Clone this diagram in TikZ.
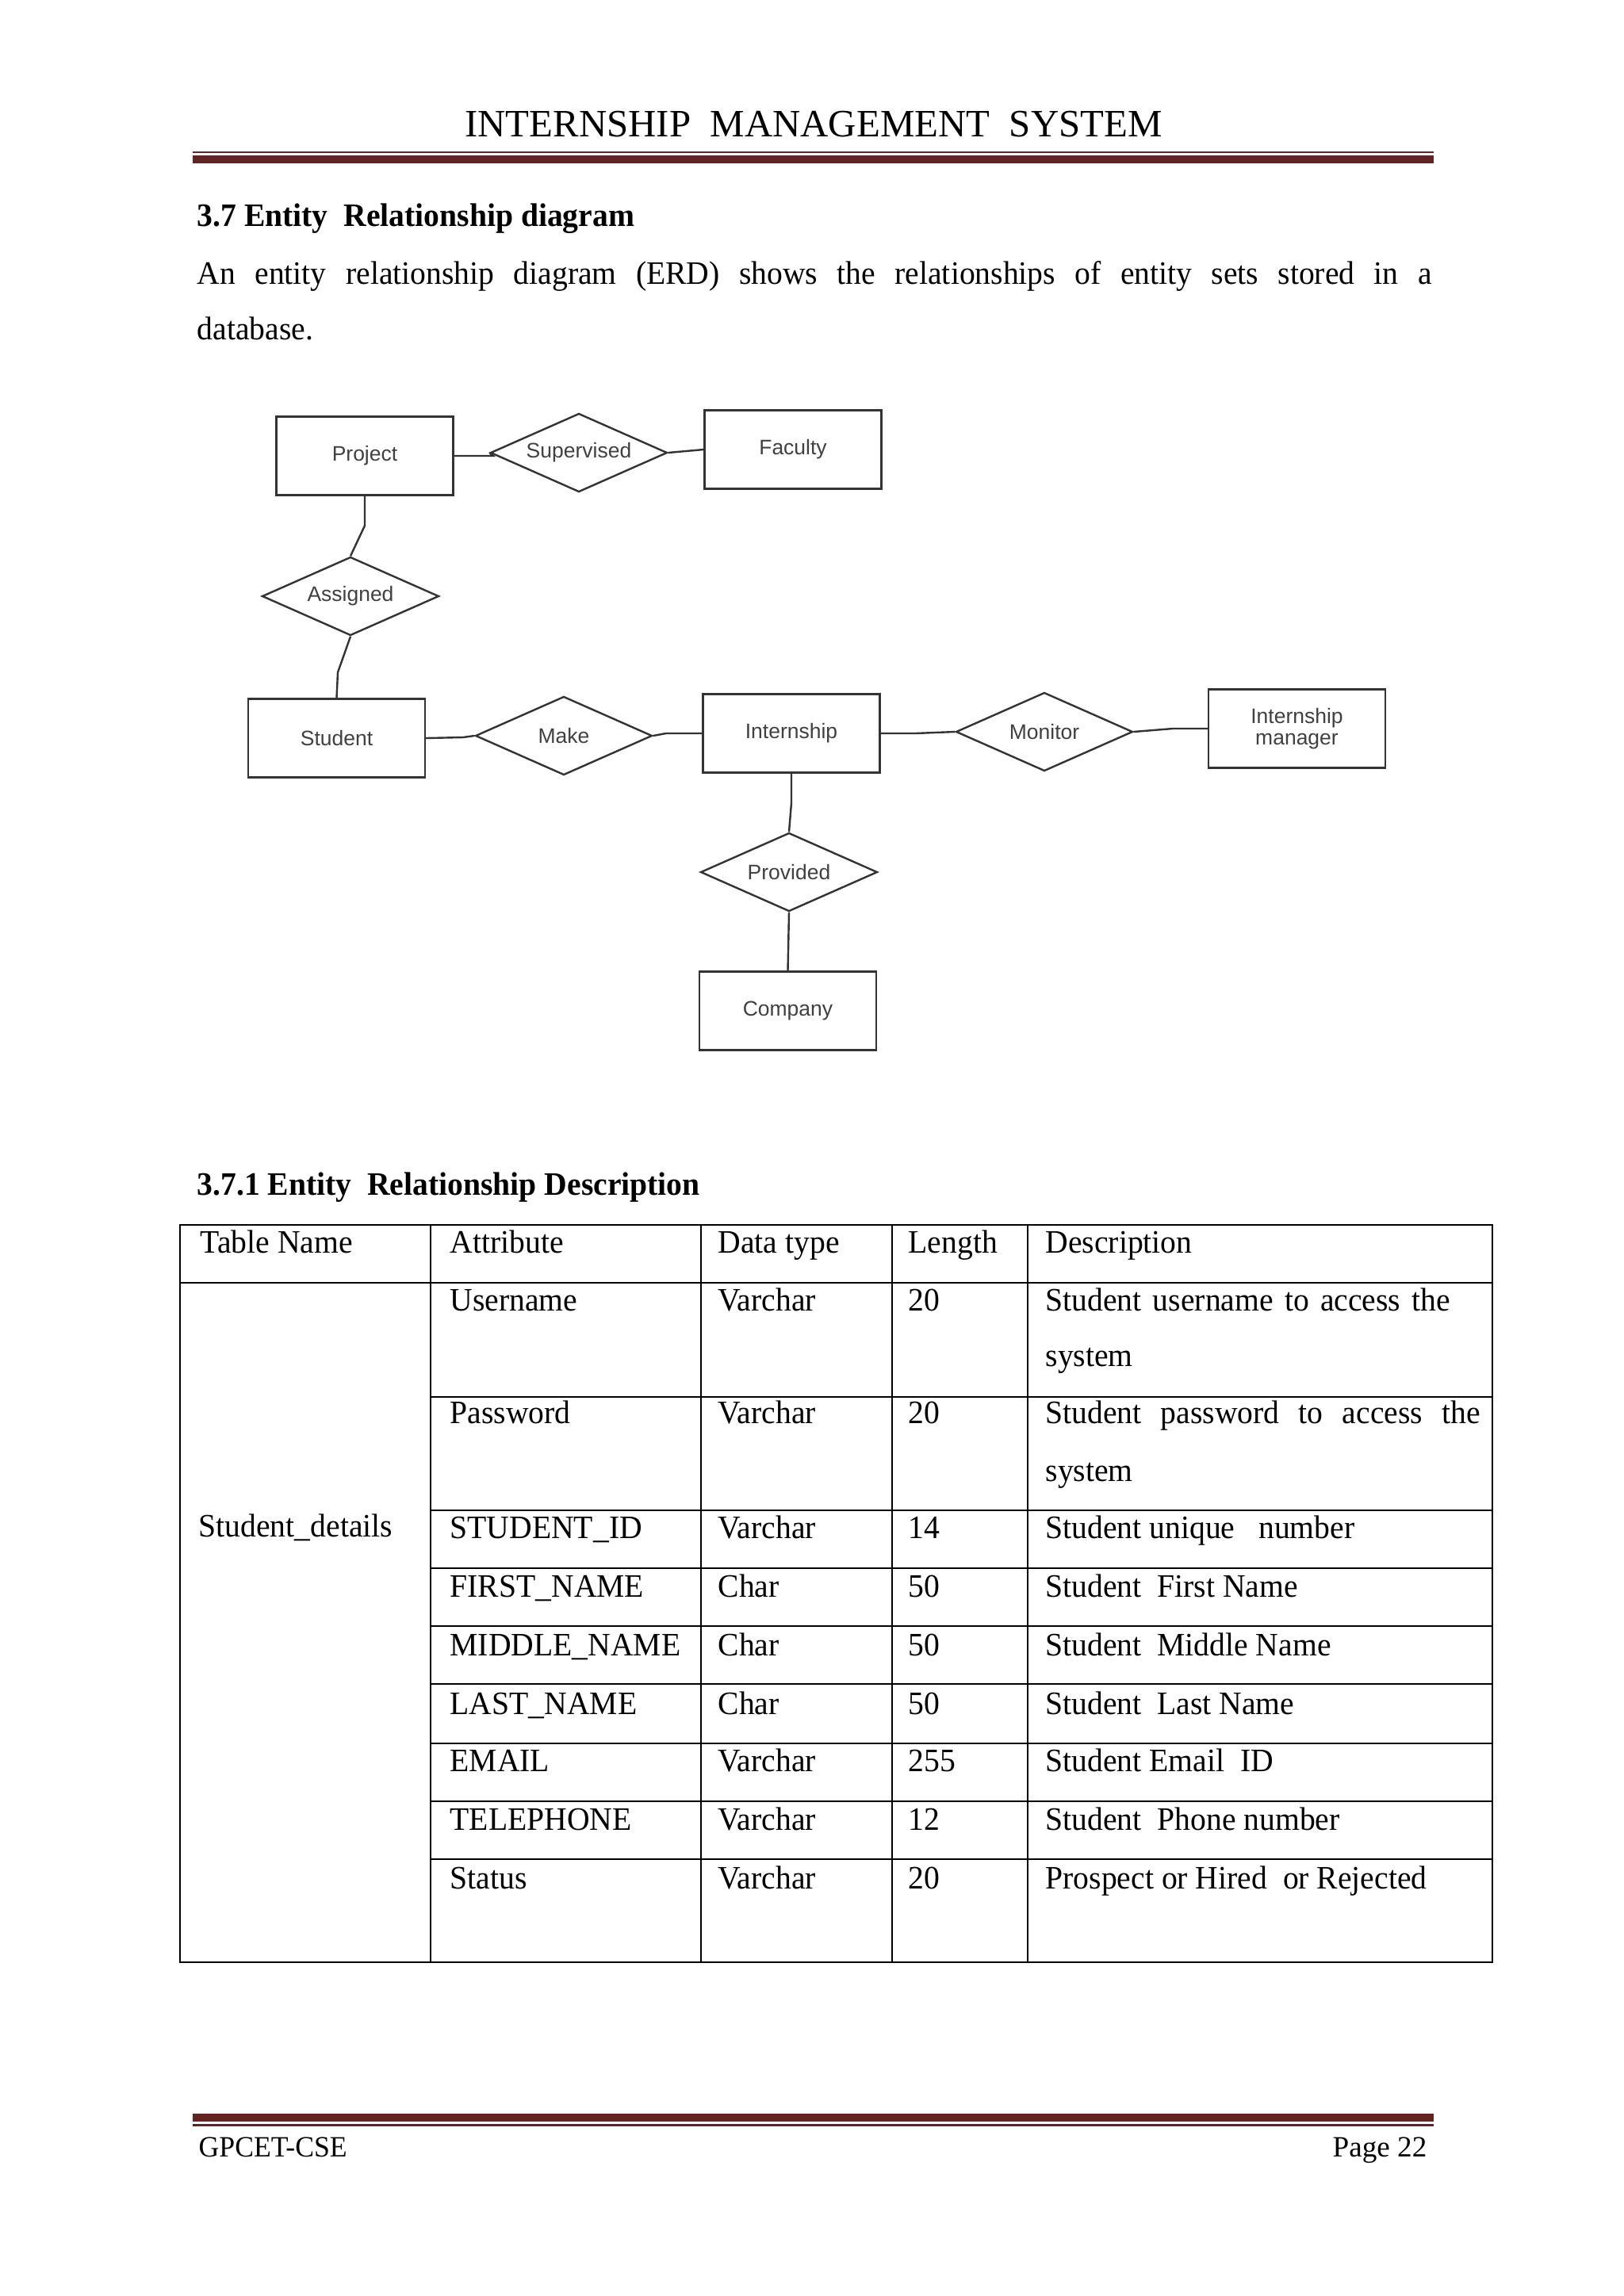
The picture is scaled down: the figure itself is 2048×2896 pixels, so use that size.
\documentclass[tikz,border=0pt]{standalone}
\usepackage{fontspec}
\setmainfont{Liberation Serif}[FakeStretch=0.96]
\newfontfamily\titlefont{Liberation Serif}
\newfontfamily\erdfont{Liberation Sans}
\usetikzlibrary{shapes.geometric}
\definecolor{rulered}{HTML}{622423}
\definecolor{erdline}{HTML}{333333}
\definecolor{erdtext}{HTML}{404040}
\begin{document}
\begin{tikzpicture}[x=0.2907pt, y=-0.2907pt,
  entity/.style={draw=erdline, line width=0.7pt, minimum width=64.8pt, minimum height=28.8pt,
    inner sep=0pt, align=center, font=\erdfont\fontsize{7.7}{7.8}\selectfont, text=erdtext},
  relation/.style={diamond, aspect=2.25, draw=erdline, line width=0.7pt, minimum width=64.8pt,
    minimum height=28.8pt, inner sep=0pt, font=\erdfont\fontsize{7.7}{8}\selectfont, text=erdtext},
  conn/.style={draw=erdline, line width=0.7pt},
  txt/.style={anchor=base west, inner sep=0pt, font=\fontsize{12}{14}\selectfont},
  head/.style={anchor=base west, inner sep=0pt, font=\bfseries\fontsize{12}{14}\selectfont},
  grid/.style={line width=0.8pt, black},
  rulebar/.style={fill=rulered, draw=none}
]
\useasboundingbox (0,0) rectangle (2048,2896);
\fill[white] (0,0) rectangle (2048,2896);

% ---------- header ----------
\node[anchor=base, inner sep=0pt, font=\titlefont\fontsize{14.2}{16}\selectfont] (title) at (1026,172)
  {INTERNSHIP\ \ MANAGEMENT\ \ SYSTEM};
\path[rulebar] (243,191) rectangle (1808,193);
\path[rulebar] (243,196) rectangle (1808,206);

% ---------- intro ----------
\node[head] (h37) at (248,285) {3.7 Entity\ \ Relationship diagram};
\node[txt] (intro1) at (248,358)
  {\makebox[452.6pt][s]{An entity relationship diagram (ERD) shows the relationships of entity sets stored in a}};
\node[txt] (intro2) at (248,428) {database.};

% ---------- ER diagram ----------
\node[entity] (project) at (460,575) {Project};
\node[relation] (supervised) at (730,571) {Supervised};
\node[entity] (faculty) at (1000,567) {Faculty};
\node[relation] (assigned) at (442,752) {Assigned};
\node[entity] (student) at (424.5,931) {Student};
\node[relation] (make) at (711,928) {Make};
\node[entity] (internship) at (998,925) {Internship};
\node[relation] (monitor) at (1317,923) {Monitor};
\node[entity] (manager) at (1635.5,919) {Internship\\manager};
\node[relation] (provided) at (995,1100) {Provided};
\node[entity] (company) at (993.5,1275) {Company};

\coordinate (b1) at (460,663);
\coordinate (b2) at (426,848);
\coordinate (b3) at (998,1013);
\coordinate (b4) at (584,930);
\coordinate (b5) at (840,925);
\coordinate (b6) at (1154,925);
\coordinate (b7) at (1479,919);
\coordinate (b8) at (622,575);

\draw[conn] (project.east) -- (b8) -- (supervised.west);
\draw[conn] (supervised.east) -- (faculty.west);
\draw[conn] (project.south) -- (b1) -- (assigned.north);
\draw[conn] (assigned.south) -- (b2) -- (student.north);
\draw[conn] (student.east) -- (b4) -- (make.west);
\draw[conn] (make.east) -- (b5) -- (internship.west);
\draw[conn] (internship.east) -- (b6) -- (monitor.west);
\draw[conn] (monitor.east) -- (b7) -- (manager.west);
\draw[conn] (internship.south) -- (b3) -- (provided.north);
\draw[conn] (provided.south) -- (company.north);

% ---------- table ----------
\node[head] (h371) at (248,1507) {3.7.1 Entity\ \ Relationship Description};

\draw[grid] (227,1545) rectangle (1882,2475);
\draw[grid] (227,1618) -- (1882,1618);
\foreach \yy in {1762,1905,1978,2051,2124,2199,2272,2345}
  \draw[grid] (543,\yy) -- (1882,\yy);
\foreach \xx in {543,884,1125,1296}
  \draw[grid] (\xx,1545) -- (\xx,2475);

\node[txt] (c-tn) at (252,1580) {Table Name};
\node[txt] (c-at) at (567,1580) {Attribute};
\node[txt] (c-dt) at (905,1580) {Data type};
\node[txt] (c-ln) at (1145,1580) {Length};
\node[txt] (c-ds) at (1318,1580) {Description};

\node[txt] (sd) at (250,1938) {Student\_details};

% Username
\node[txt] (a1) at (567,1653) {Username};
\node[txt] (d1) at (905,1653) {Varchar};
\node[txt] (l1) at (1145,1653) {20};
\node[txt] (s1) at (1318,1653) {\makebox[148.3pt][s]{Student username to access the}};
\node[txt] (s1b) at (1318,1723) {system};
% Password
\node[txt] (a2) at (567,1795) {Password};
\node[txt] (d2) at (905,1795) {Varchar};
\node[txt] (l2) at (1145,1795) {20};
\node[txt] (s2) at (1318,1795) {\makebox[159.3pt][s]{Student password to access the}};
\node[txt] (s2b) at (1318,1868) {system};
% others
\node[txt] (a3) at (567,1940) {STUDENT\_ID};
\node[txt] (d3) at (905,1940) {Varchar};
\node[txt] (l3) at (1145,1940) {14};
\node[txt] (s3) at (1318,1940) {Student unique\ \ \ number};

\node[txt] (a4) at (567,2014) {FIRST\_NAME};
\node[txt] (d4) at (905,2014) {Char};
\node[txt] (l4) at (1145,2014) {50};
\node[txt] (s4) at (1318,2014) {Student\ \ First Name};

\node[txt] (a5) at (567,2088) {MIDDLE\_NAME};
\node[txt] (d5) at (905,2088) {Char};
\node[txt] (l5) at (1145,2088) {50};
\node[txt] (s5) at (1318,2088) {Student\ \ Middle Name};

\node[txt] (a6) at (567,2162) {LAST\_NAME};
\node[txt] (d6) at (905,2162) {Char};
\node[txt] (l6) at (1145,2162) {50};
\node[txt] (s6) at (1318,2162) {Student\ \ Last Name};

\node[txt] (a7) at (567,2234) {EMAIL};
\node[txt] (d7) at (905,2234) {Varchar};
\node[txt] (l7) at (1145,2234) {255};
\node[txt] (s7) at (1318,2234) {Student Email\ \ ID};

\node[txt] (a8) at (567,2308) {TELEPHONE};
\node[txt] (d8) at (905,2308) {Varchar};
\node[txt] (l8) at (1145,2308) {12};
\node[txt] (s8) at (1318,2308) {Student\ \ Phone number};

\node[txt] (a9) at (567,2382) {Status};
\node[txt] (d9) at (905,2382) {Varchar};
\node[txt] (l9) at (1145,2382) {20};
\node[txt] (s9) at (1318,2382) {Prospect or Hired\ \ or Rejected};

% ---------- footer ----------
\path[rulebar] (243,2666) rectangle (1808,2676);
\path[rulebar] (243,2679) rectangle (1808,2682);
\node[anchor=base west, inner sep=0pt, font=\fontsize{10.8}{13}\selectfont] (foot-l) at (250,2720) {GPCET-CSE};
\node[anchor=base east, inner sep=0pt, font=\titlefont\fontsize{10.8}{13}\selectfont] (foot-r) at (1800,2720) {Page 22};
\end{tikzpicture}
\end{document}
